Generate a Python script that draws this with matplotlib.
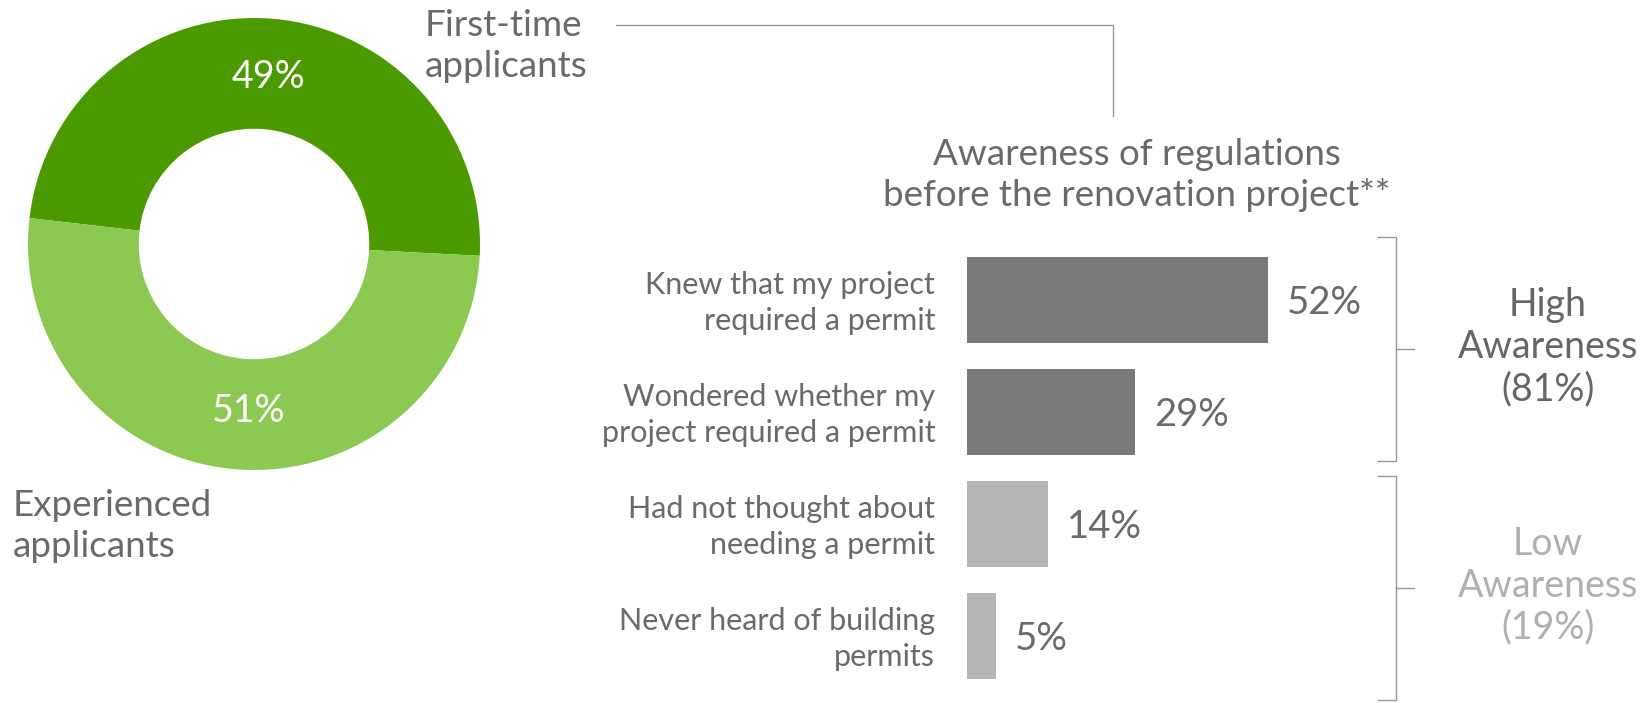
import matplotlib
matplotlib.use("Agg")
import matplotlib.pyplot as plt
from matplotlib.lines import Line2D

W, H = 1652, 703

# donut data
donut_labels = ["First-time\napplicants", "Experienced\napplicants"]
donut_values = [49, 51]
donut_colors = ["#4a9a00", "#8cc952"]

# bar data
categories = ["Knew that my project\nrequired a permit",
              "Wondered whether my\nproject required a permit",
              "Had not thought about\nneeding a permit",
              "Never heard of building\npermits"]
values = [52, 29, 14, 5]
bar_colors = ["#7a7a7a", "#7a7a7a", "#b5b5b5", "#b5b5b5"]

# groups: (name, first index, last index, text colour)
groups = [("High\nAwareness", 0, 1, "#666666"),
          ("Low\nAwareness", 2, 3, "#b0b0b0")]

title = "Awareness of regulations\nbefore the renovation project**"

plt.rcParams['font.family'] = ['Lato', 'DejaVu Sans']
TXT = "#6a6a6a"
LINE = "#999999"


def fx(x):
    return x / W


def fy(y):
    return 1 - y / H


fig = plt.figure(figsize=(W / 100, H / 100), dpi=100)

# ---- donut ----
cx, cy, r = 254, 244, 226
ax1 = fig.add_axes([fx(cx - r), fy(cy + r), 2 * r / W, 2 * r / H])
wedges, _, autotexts = ax1.pie(donut_values, colors=donut_colors, startangle=-3,
                               counterclock=True, autopct='%d%%', pctdistance=0.74,
                               wedgeprops=dict(width=0.49, linewidth=0),
                               textprops=dict(color="white", fontsize=27))
# the lower label sits nearly straight under the hole in the original
autotexts[1].set_x(autotexts[1].get_position()[0] * 0.4)
ax1.set_xlim(-1, 1)
ax1.set_ylim(-1, 1)
ax1.set_aspect("equal")
ax1.axis("off")

fig.text(fx(425), fy(46), donut_labels[0], fontsize=26.5, color=TXT,
         ha="left", va="center", linespacing=1.3)
fig.text(fx(13), fy(526), donut_labels[1], fontsize=26.5, color=TXT,
         ha="left", va="center", linespacing=1.28)

# connector from donut label to bar chart title
fig.add_artist(Line2D([fx(616), fx(1113), fx(1113)], [fy(25), fy(25), fy(116)],
                      color=LINE, lw=1))

fig.text(fx(1137), fy(175), title, fontsize=26.5, color=TXT,
         ha="center", va="center", linespacing=1.25)

# ---- bars ----
x0 = 967
pxper = 5.79
top = 244
step = 112
ax2 = fig.add_axes([fx(x0), fy(top + 4 * step), (W - x0) / W, 4 * step / H])
ypos = list(range(len(values)))
ax2.barh(ypos, values, height=0.76, color=bar_colors)
ax2.set_xlim(0, (W - x0) / pxper)
ax2.set_ylim(3.5, -0.5)
ax2.axis("off")

for i, (cat, v) in enumerate(zip(categories, values)):
    ax2.text(-5.5, i + 0.03, cat, ha="right", va="center", fontsize=22, color=TXT,
             linespacing=1.35, clip_on=False)
    ax2.text(v + 3.3, i + 0.03, f"{v}%", ha="left", va="center", fontsize=27.5,
             color=TXT)

bx = (1396 - x0) / pxper
tick = 18 / pxper
for gi, (name, a, b, col) in enumerate(groups):
    y_top = a - 0.56 + 0.13 * gi
    y_bot = y_top + 2.0
    ym = (y_top + y_bot) / 2
    ax2.plot([bx - tick, bx, bx, bx - tick], [y_top, y_top, y_bot, y_bot],
             color=LINE, lw=1, clip_on=False)
    ax2.plot([bx, bx + tick], [ym, ym], color=LINE, lw=1, clip_on=False)
    total = sum(values[a:b + 1])
    ax2.text((1548 - x0) / pxper, ym - 0.02, f"{name}\n({total}%)", ha="center",
             va="center", fontsize=27, color=col, linespacing=1.2)

fig.savefig("out.png", dpi=100)
